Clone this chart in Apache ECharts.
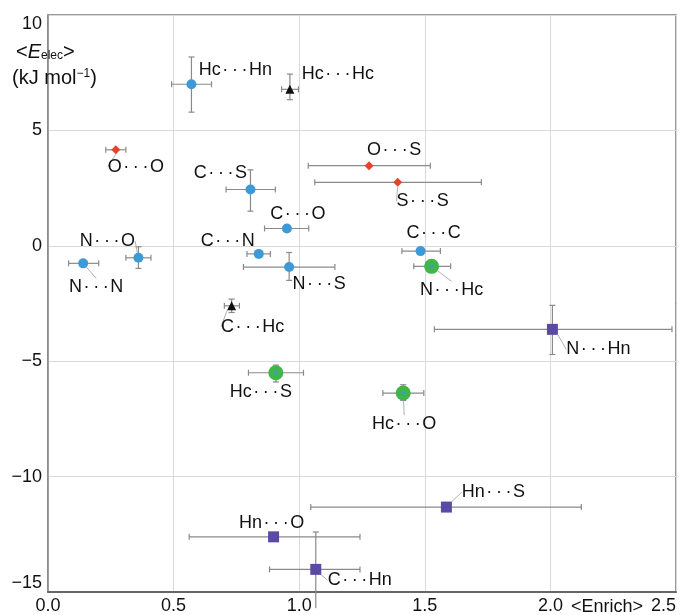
<!DOCTYPE html>
<html>
<head>
<meta charset="utf-8">
<script src="https://cdn.jsdelivr.net/npm/echarts@6/dist/echarts.min.js"></script>
<style>
html,body{margin:0;padding:0;background:#fff;}
#chart{width:680px;height:615px;}
</style>
</head>
<body>
<div id="chart"></div>
<script>
// ---- data ----
const names = ['Hc···Hn','Hc···Hc','O···O','O···S','S···S','C···S','C···O','C···N','N···S','C···C',
               'N···Hc','N···O','N···N','C···Hc','N···Hn','Hc···S','Hc···O','Hn···S','Hn···O','C···Hn'];
const groups = ['blue','black','red','red','red','blue','blue','blue','blue','blue',
                'green','blue','blue','black','purple','green','green','purple','purple','purple'];
const enrich   = [0.571, 0.963, 0.270, 1.278, 1.392, 0.806, 0.951, 0.839, 0.960, 1.483,
                  1.527, 0.360, 0.140, 0.731, 2.008, 0.907, 1.414, 1.586, 0.898, 1.066];
const eelec    = [7.00, 6.78, 4.16, 3.47, 2.75, 2.44, 0.75, -0.35, -0.92, -0.23,
                  -0.89, -0.52, -0.76, -2.60, -3.62, -5.50, -6.38, -11.32, -12.61, -14.02];
const enrichLo = [0.492, 0.930, 0.230, 1.036, 1.062, 0.709, 0.862, 0.792, 0.778, 1.409,
                  1.456, 0.310, 0.082, 0.702, 1.538, 0.798, 1.333, 1.046, 0.562, 0.882];
const enrichHi = [0.651, 0.997, 0.310, 1.522, 1.725, 0.905, 1.038, 0.885, 1.142, 1.562,
                  1.603, 0.410, 0.202, 0.762, 2.484, 1.017, 1.496, 2.123, 1.242, 1.242];
const eelecLo  = [5.79, 6.33, 4.16, 3.47, 2.75, 1.50, 0.75, -0.35, -1.50, -0.23,
                  -1.10, -0.98, -0.76, -2.89, -4.71, -5.90, -6.70, -11.32, -12.61, -15.70];
const eelecHi  = [8.18, 7.44, 4.16, 3.47, 2.75, 3.29, 0.75, -0.35, -0.29, -0.23,
                  -0.68, -0.04, -0.76, -2.31, -2.58, -5.17, -6.02, -11.32, -12.61, -12.40];
const xTicks = [0, 0.5, 1.0, 1.5, 2.0, 2.5];
const yTicks = [-15, -10, -5, 0, 5, 10];

// ---- layout / style (label offsets in px relative to marker, leader flag) ----
const labelPos = {
  'Hc···Hn':[44,-14,0], 'Hc···Hc':[48,-15,0], 'O···O':[20,17,1], 'O···S':[25,-16,0],
  'S···S':[25,19,1], 'C···S':[-30,-16,0], 'C···O':[11,-14,0], 'C···N':[-31,-13,0],
  'N···S':[30,17,0], 'C···C':[13,-18,0], 'N···Hc':[20,24,1], 'N···O':[-31,-17,1],
  'N···N':[13,24,1], 'C···Hc':[21,21,1], 'N···Hn':[46,20,1], 'Hc···S':[-15,19,0],
  'Hc···O':[1,31,1], 'Hn···S':[47,-15,1], 'Hn···O':[-2,-14,0], 'C···Hn':[44,11,1]
};
const groupStyle = {
  blue:   {symbol:'circle',   size:10, color:'#3d9ad6'},
  red:    {symbol:'diamond',  size:9,  color:'#e8412c'},
  black:  {symbol:'triangle', size:9,  color:'#111111'},
  green:  {symbol:'circle',   size:15, color:'#3fb54a'},
  purple: {symbol:'rect',     size:11, color:'#5a4aa6'}
};
const FONT = '"Liberation Sans", Arial, Helvetica, sans-serif';
const spaced = s => s.replace('···', '\u200a·\u2009·\u2009·\u200a');

const chart = echarts.init(document.getElementById('chart'), null, {renderer:'canvas'});

// error bar series
const errData = names.map((n,i)=>[enrich[i], eelec[i], enrichLo[i], enrichHi[i], eelecLo[i], eelecHi[i]]);
const errSeries = {
  type:'custom', z:1, silent:true, clip:false,
  data: errData,
  encode:{x:0, y:1},
  renderItem:function(params, api){
    const lo = api.coord([api.value(2), api.value(1)]);
    const hi = api.coord([api.value(3), api.value(1)]);
    const ylo = api.coord([api.value(0), api.value(4)]);
    const yhi = api.coord([api.value(0), api.value(5)]);
    const st = {stroke:'#8a8a8a', lineWidth:1.2};
    const c = 3;
    const ch = [];
    if (Math.abs(hi[0]-lo[0]) > 1) {
      ch.push({type:'line', shape:{x1:lo[0],y1:lo[1],x2:hi[0],y2:hi[1]}, style:st});
      ch.push({type:'line', shape:{x1:lo[0],y1:lo[1]-c,x2:lo[0],y2:lo[1]+c}, style:st});
      ch.push({type:'line', shape:{x1:hi[0],y1:hi[1]-c,x2:hi[0],y2:hi[1]+c}, style:st});
    }
    if (Math.abs(yhi[1]-ylo[1]) > 1) {
      ch.push({type:'line', shape:{x1:ylo[0],y1:ylo[1],x2:yhi[0],y2:yhi[1]}, style:st});
      ch.push({type:'line', shape:{x1:yhi[0]-c,y1:yhi[1],x2:yhi[0]+c,y2:yhi[1]}, style:st});
      if (api.value(4) > -15) ch.push({type:'line', shape:{x1:ylo[0]-c,y1:ylo[1],x2:ylo[0]+c,y2:ylo[1]}, style:st});
    }
    return {type:'group', children:ch};
  }
};

const seriesMap = [];
const series = [errSeries];
seriesMap.push(null);
['blue','red','black','green','purple'].forEach(g=>{
  const idx = names.map((n,i)=>i).filter(i=>groups[i]===g);
  const gs = groupStyle[g];
  seriesMap.push(idx);
  series.push({
    type:'scatter', z:3,
    symbol:gs.symbol, symbolSize:gs.size,
    itemStyle:{color:gs.color, opacity:1},
    data: idx.map(i=>({value:[enrich[i], eelec[i]], name:names[i],
                       labelLine:{show: !!labelPos[names[i]][2]}})),
    label:{show:true, position:'inside', formatter:p=>spaced(p.name),
           color:'#111', fontSize:18, fontFamily:FONT},
    labelLine:{show:false, smooth:false, lineStyle:{color:'#b0b0b0', width:1}},
    labelLayout:function(p){
      const gi = seriesMap[p.seriesIndex][p.dataIndex];
      const o = labelPos[names[gi]];
      return {dx:o[0], dy:o[1]};
    },
    emphasis:{disabled:true}
  });
});
// small blue centre dot on green markers
const gIdx = names.map((n,i)=>i).filter(i=>groups[i]==='green');
series.push({
  type:'scatter', z:4, silent:true, symbol:'circle', symbolSize:4,
  itemStyle:{color:'#3d9ad6'},
  data: gIdx.map(i=>[enrich[i], eelec[i]])
});

chart.setOption({
  animation:false,
  backgroundColor:'#fff',
  grid:{left:48, top:15, right:4, bottom:23, show:true, borderColor:'#777', borderWidth:1.5, backgroundColor:'transparent'},
  xAxis:{
    type:'value', min:xTicks[0], max:xTicks[xTicks.length-1], interval:0.5,
    axisLine:{show:true, onZero:false, lineStyle:{color:'#666', width:2}},
    axisTick:{show:false},
    splitLine:{show:true, lineStyle:{color:'#d9d9d9', width:1}},
    axisLabel:{formatter:v=>v.toFixed(1), color:'#111', fontSize:18, fontFamily:FONT, margin:5, alignMaxLabel:'right'}
  },
  yAxis:{
    type:'value', min:yTicks[0], max:yTicks[yTicks.length-1], interval:5,
    axisLine:{show:true, onZero:false, lineStyle:{color:'#888', width:1.5}},
    axisTick:{show:false},
    splitLine:{show:true, lineStyle:{color:'#d9d9d9', width:1}},
    axisLabel:{formatter:v=> v<0 ? '\u2212'+Math.abs(v) : String(v), color:'#111', fontSize:18, fontFamily:FONT, margin:6,
               verticalAlignMaxLabel:'top', verticalAlignMinLabel:'bottom'}
  },
  graphic:[
    {type:'text', left:16, top:42, z:10, style:{
      text:'<{i|E}{s|elec}>', font:'20px '+FONT, fill:'#111',
      rich:{i:{fontStyle:'italic', fontSize:20, fontFamily:FONT, fill:'#111'},
            s:{fontSize:12, fontFamily:FONT, verticalAlign:'bottom', padding:[8,0,0,0], fill:'#111'}}
    }},
    {type:'text', left:12, top:68, z:10, style:{
      text:'(kJ mol{sup|\u22121})', font:'20px '+FONT, fill:'#111',
      rich:{sup:{fontSize:12, fontFamily:FONT, verticalAlign:'top', padding:[0,0,8,0], fill:'#111'}}
    }},
    {type:'text', left:571, top:598, z:10, style:{text:'<Enrich>', font:'18px '+FONT, fill:'#111'}}
  ],
  series: series
});
</script>
</body>
</html>
